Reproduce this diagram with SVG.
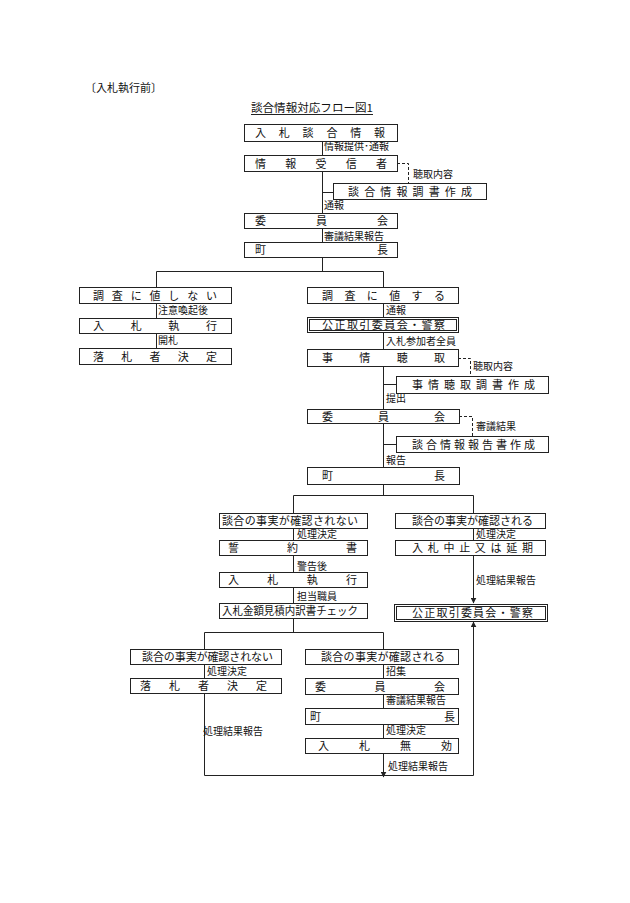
<svg xmlns="http://www.w3.org/2000/svg" width="630" height="903" viewBox="0 0 630 903">
<style>
.b{fill:#fff;stroke:#222;stroke-width:1}
.t{font-family:"Noto Sans CJK JP","Noto Sans CJK SC",sans-serif;font-size:11px;fill:#111}
.l{font-family:"Noto Sans CJK JP","Noto Sans CJK SC",sans-serif;font-size:10px;fill:#111}
.c{fill:none;stroke:#222;stroke-width:1}
.d{fill:none;stroke:#222;stroke-width:1;stroke-dasharray:3,2}
</style>
<defs>
<marker id="ar" viewBox="0 0 10 10" refX="9" refY="5" markerWidth="6" markerHeight="6" markerUnits="userSpaceOnUse" orient="auto">
<path d="M0,0 L10,5 L0,10 z" fill="#222"/>
</marker>
</defs>
<rect width="630" height="903" fill="#fff"/>
<text class="t" x="85" y="92" font-size="12">〔入札執行前〕</text>
<text class="t" x="251" y="112" textLength="122" lengthAdjust="spacingAndGlyphs">談合情報対応フロー図1</text>
<line x1="251" y1="114.5" x2="373" y2="114.5" stroke="#222" stroke-width="1"/>

<g id="connectors">
<path class="c" d="M322.5,141 V155 M322.5,171 V213 M322.5,192.5 H333 M322.5,228 V242 M322.5,257 V271.5"/>
<path class="c" d="M156.5,271.5 H383.5 M156.5,271.5 V287 M156.5,303 V318 M156.5,333 V348"/>
<path class="c" d="M383.5,271.5 V287 M383.5,303 V317 M383.5,332 V349 M383.5,366 V409 M383.5,384.5 H396 M383.5,423 V467 M383.5,444.5 H396 M383.5,484 V495.5"/>
<path class="d" d="M397,163.5 H408.5 V183"/>
<path class="d" d="M458,358.5 H470.5 V376"/>
<path class="d" d="M459,416.5 H472.5 V436"/>
<path class="c" d="M293.5,495.5 H473.5 M293.5,495.5 V513 M293.5,528 V540 M293.5,555 V572 M293.5,587 V603 M293.5,618 V632.5"/>
<path class="c" d="M473.5,495.5 V513 M473.5,528 V540"/>
<path class="c" d="M473.5,555 V603" marker-end="url(#ar)"/>
<path class="c" d="M204.5,632.5 H383.5 M204.5,632.5 V649 M204.5,664 V678 M204.5,693 V775.5 H473.5"/>
<path class="c" d="M383.5,632.5 V649 M383.5,664 V678 M383.5,694 V708 M383.5,724 V738"/>
<path class="c" d="M383.5,753 V777" marker-end="url(#ar)"/>
<path class="c" d="M473.5,775.5 V622" marker-end="url(#ar)"/>
</g>

<g id="labels">
<text class="l" x="324" y="150">情報提供･通報</text>
<text class="l" x="413" y="178">聴取内容</text>
<text class="l" x="324" y="209">通報</text>
<text class="l" x="324" y="240">審議結果報告</text>
<text class="l" x="158" y="314">注意喚起後</text>
<text class="l" x="158" y="344">開札</text>
<text class="l" x="386" y="314">通報</text>
<text class="l" x="386" y="345">入札参加者全員</text>
<text class="l" x="473" y="370">聴取内容</text>
<text class="l" x="386" y="402">提出</text>
<text class="l" x="476" y="430">審議結果</text>
<text class="l" x="386" y="464">報告</text>
<text class="l" x="297" y="538">処理決定</text>
<text class="l" x="297" y="570">警告後</text>
<text class="l" x="297" y="600">担当職員</text>
<text class="l" x="476" y="538">処理決定</text>
<text class="l" x="476" y="584">処理結果報告</text>
<text class="l" x="207" y="675">処理決定</text>
<text class="l" x="203" y="735">処理結果報告</text>
<text class="l" x="386" y="675">招集</text>
<text class="l" x="386" y="704">審議結果報告</text>
<text class="l" x="386" y="734">処理決定</text>
<text class="l" x="388" y="770">処理結果報告</text>
</g>

<g id="n1"><rect class="b" x="244.5" y="124.5" width="153" height="17"/><text class="t" x="255" y="137" textLength="130" lengthAdjust="spacing">入札談合情報</text></g>
<g id="n2"><rect class="b" x="244.5" y="155.5" width="153" height="16"/><text class="t" x="255" y="167.5" textLength="132" lengthAdjust="spacing">情報受信者</text></g>
<g id="n3"><rect class="b" x="333.5" y="183.5" width="153" height="16"/><text class="t" x="348" y="195.5" textLength="124" lengthAdjust="spacing">談合情報調書作成</text></g>
<g id="n4"><rect class="b" x="244.5" y="213.5" width="153" height="15"/><text class="t" x="255" y="225" textLength="133" lengthAdjust="spacing">委員会</text></g>
<g id="n5"><rect class="b" x="244.5" y="242.5" width="153" height="15"/><text class="t" x="255" y="254" textLength="133" lengthAdjust="spacing">町長</text></g>
<g id="n6"><rect class="b" x="79.5" y="287.5" width="152" height="16"/><text class="t" x="93" y="299.5" textLength="124" lengthAdjust="spacing">調査に値しない</text></g>
<g id="n7"><rect class="b" x="79.5" y="318.5" width="152" height="15"/><text class="t" x="93" y="330" textLength="124" lengthAdjust="spacing">入札執行</text></g>
<g id="n8"><rect class="b" x="79.5" y="348.5" width="152" height="16"/><text class="t" x="93" y="360.5" textLength="124" lengthAdjust="spacing">落札者決定</text></g>
<g id="n9"><rect class="b" x="307.5" y="287.5" width="151" height="16"/><text class="t" x="322" y="299.5" textLength="123" lengthAdjust="spacing">調査に値する</text></g>
<g id="n10"><rect class="b" x="307.5" y="317.5" width="151" height="15"/><rect class="c" x="309.5" y="319.5" width="147" height="11"/><text class="t" x="322" y="329" textLength="123" lengthAdjust="spacing">公正取引委員会・警察</text></g>
<g id="n11"><rect class="b" x="307.5" y="349.5" width="151" height="17"/><text class="t" x="322" y="362" textLength="123" lengthAdjust="spacing">事情聴取</text></g>
<g id="n12"><rect class="b" x="396.5" y="376.5" width="152" height="17"/><text class="t" x="412" y="389" textLength="123" lengthAdjust="spacing">事情聴取調書作成</text></g>
<g id="n13"><rect class="b" x="307.5" y="409.5" width="152" height="14"/><text class="t" x="322" y="420.5" textLength="123" lengthAdjust="spacing">委員会</text></g>
<g id="n14"><rect class="b" x="396.5" y="436.5" width="152" height="16"/><text class="t" x="412" y="448.5" textLength="123" lengthAdjust="spacing">談合情報報告書作成</text></g>
<g id="n15"><rect class="b" x="307.5" y="467.5" width="152" height="17"/><text class="t" x="322" y="480" textLength="123" lengthAdjust="spacing">町長</text></g>
<g id="n16"><rect class="b" x="219.5" y="513.5" width="148" height="15"/><text class="t" x="222" y="525" textLength="136" lengthAdjust="spacing">談合の事実が確認されない</text></g>
<g id="n17"><rect class="b" x="219.5" y="540.5" width="148" height="15"/><text class="t" x="228" y="552" textLength="129" lengthAdjust="spacing">誓約書</text></g>
<g id="n18"><rect class="b" x="219.5" y="572.5" width="148" height="15"/><text class="t" x="228" y="584" textLength="129" lengthAdjust="spacing">入札執行</text></g>
<g id="n19"><rect class="b" x="219.5" y="603.5" width="148" height="15"/><text class="t" x="222" y="615" textLength="136" lengthAdjust="spacingAndGlyphs">入札金額見積内訳書チェック</text></g>
<g id="n20"><rect class="b" x="395.5" y="513.5" width="150" height="15"/><text class="t" x="412" y="525" textLength="121" lengthAdjust="spacing">談合の事実が確認される</text></g>
<g id="n21"><rect class="b" x="395.5" y="540.5" width="150" height="15"/><text class="t" x="412" y="552" textLength="121" lengthAdjust="spacing">入札中止又は延期</text></g>
<g id="n22"><rect class="b" x="394.5" y="604.5" width="153" height="17"/><rect class="c" x="396.5" y="606.5" width="149" height="13"/><text class="t" x="412" y="617" textLength="121" lengthAdjust="spacing">公正取引委員会・警察</text></g>
<g id="n23"><rect class="b" x="130.5" y="649.5" width="151" height="15"/><text class="t" x="142" y="661" textLength="131" lengthAdjust="spacing">談合の事実が確認されない</text></g>
<g id="n24"><rect class="b" x="130.5" y="678.5" width="151" height="15"/><text class="t" x="140" y="690" textLength="127" lengthAdjust="spacing">落札者決定</text></g>
<g id="n25"><rect class="b" x="305.5" y="649.5" width="153" height="15"/><text class="t" x="321" y="661" textLength="124" lengthAdjust="spacing">談合の事実が確認される</text></g>
<g id="n26"><rect class="b" x="305.5" y="678.5" width="153" height="16"/><text class="t" x="315" y="690.5" textLength="130" lengthAdjust="spacing">委員会</text></g>
<g id="n27"><rect class="b" x="305.5" y="708.5" width="153" height="16"/><text class="t" x="310" y="720.5" textLength="145" lengthAdjust="spacing">町長</text></g>
<g id="n28"><rect class="b" x="305.5" y="738.5" width="153" height="15"/><text class="t" x="318" y="750" textLength="134" lengthAdjust="spacing">入札無効</text></g>
</svg>
